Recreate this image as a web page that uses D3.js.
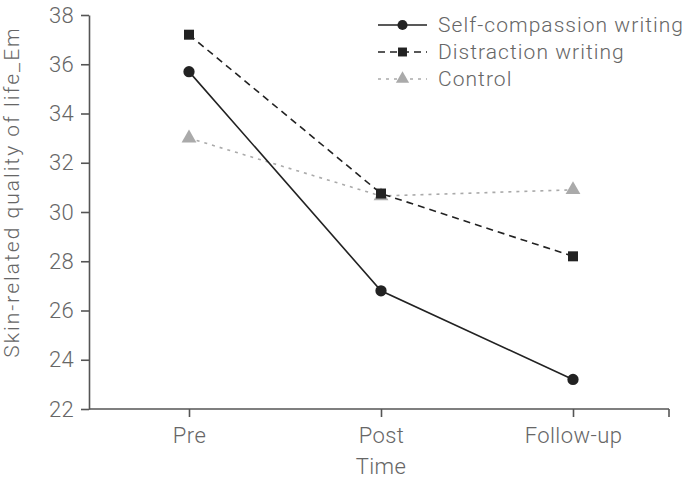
<!DOCTYPE html>
<html><head><meta charset="utf-8">
<script src="https://cdn.jsdelivr.net/npm/d3@7"></script>
<style>body{margin:0;background:#fff}svg{display:block}</style>
</head><body>
<svg id="c" width="690" height="481"></svg>
<script>
const categories = ["Pre", "Post", "Follow-up"];
const seriesNames = ["Self-compassion writing", "Distraction writing", "Control"];
const selfCompassion = [35.7, 26.8, 23.2];
const distraction = [37.2, 30.75, 28.2];
const control = [33.0, 30.65, 30.9];
const yTicks = [22, 24, 26, 28, 30, 32, 34, 36, 38];
const yTitle = "Skin-related quality of life_Em";
const xTitle = "Time";

(function () {
const svg = d3.select("#c");
const font = "Roboto, 'Liberation Sans', sans-serif";
const axisColor = "#555";
const textColor = "#666";

const mLeft = 89, mRight = 669, mTop = 15, mBottom = 409;
const x = d3.scalePoint().domain(categories).range([mLeft + 4, mRight]).padding(0.5);
const y = d3.scaleLinear().domain([22, 38]).range([mBottom, mTop]);

function styleText(sel, size, ls) {
  sel.attr("fill", textColor).style("font-family", font)
    .style("font-size", size + "px").style("font-weight", 300)
    .style("letter-spacing", ls + "px");
}

// Y axis
const ya = svg.append("g").attr("transform", `translate(${mLeft},0)`)
  .call(d3.axisLeft(y).tickValues(yTicks).tickSize(8).tickSizeOuter(0).tickPadding(7));
ya.select(".domain").attr("stroke", axisColor).attr("stroke-width", 1.6);
ya.selectAll(".tick line").attr("stroke", axisColor).attr("stroke-width", 1.6);
styleText(ya.selectAll(".tick text"), 22, 0.3);

// X axis
const xa = svg.append("g").attr("transform", `translate(0,${mBottom})`)
  .call(d3.axisBottom(x).tickSize(8).tickSizeOuter(0).tickPadding(10));
xa.select(".domain").remove();
xa.append("line").attr("x1", mLeft).attr("x2", x.range()[1]).attr("stroke", axisColor).attr("stroke-width", 1.6);
xa.append("line").attr("x1", x.range()[1]).attr("x2", x.range()[1]).attr("y1", 0).attr("y2", 8)
  .attr("stroke", axisColor).attr("stroke-width", 1.6);
xa.selectAll(".tick line").attr("stroke", axisColor).attr("stroke-width", 1.6);
styleText(xa.selectAll(".tick text"), 22, 0.4);

// Titles
styleText(svg.append("text").attr("transform", `translate(18.5,${(mTop + mBottom) / 2 - 20}) rotate(-90)`)
  .attr("text-anchor", "middle").text(yTitle), 21, 2);
styleText(svg.append("text").attr("x", x("Post")).attr("y", 474).attr("text-anchor", "middle")
  .text(xTitle), 22, 0.4);

// Series
const series = [
  {name: seriesNames[0], values: selfCompassion, color: "#222", dash: null, marker: "circle"},
  {name: seriesNames[1], values: distraction, color: "#222", dash: "7,5", marker: "square"},
  {name: seriesNames[2], values: control, color: "#aaa", dash: "3,5", marker: "triangle"}
];
const line = d3.line().x((d, i) => x(categories[i])).y(d => y(d));
const sym = {circle: d3.symbolCircle, square: d3.symbolSquare, triangle: d3.symbolTriangle};
const symSize = {circle: 100, square: 100, triangle: 95};

[series[2], series[1], series[0]].forEach(s => {
  svg.append("path").attr("d", line(s.values)).attr("fill", "none")
    .attr("stroke", s.color).attr("stroke-width", 1.6)
    .attr("stroke-dasharray", s.dash);
  svg.selectAll(null).data(s.values).enter().append("path")
    .attr("d", d3.symbol().type(sym[s.marker]).size(symSize[s.marker]))
    .attr("transform", (d, i) => `translate(${x(categories[i])},${y(d)})`)
    .attr("fill", s.color);
});

// Legend
const lg = svg.append("g").attr("transform", "translate(378,25)");
series.forEach((s, i) => {
  const g = lg.append("g").attr("transform", `translate(0,${i * 27})`);
  g.append("line").attr("x1", 0).attr("x2", 49).attr("stroke", s.color).attr("stroke-width", 1.6)
    .attr("stroke-dasharray", s.dash);
  g.append("path").attr("d", d3.symbol().type(sym[s.marker]).size(symSize[s.marker] * 0.8)())
    .attr("transform", "translate(24.5,0)").attr("fill", s.color);
  styleText(g.append("text").attr("x", 60).attr("y", 0).attr("dy", "0.35em").text(s.name), 21, 1.05);
});
})();
</script>
</body></html>
